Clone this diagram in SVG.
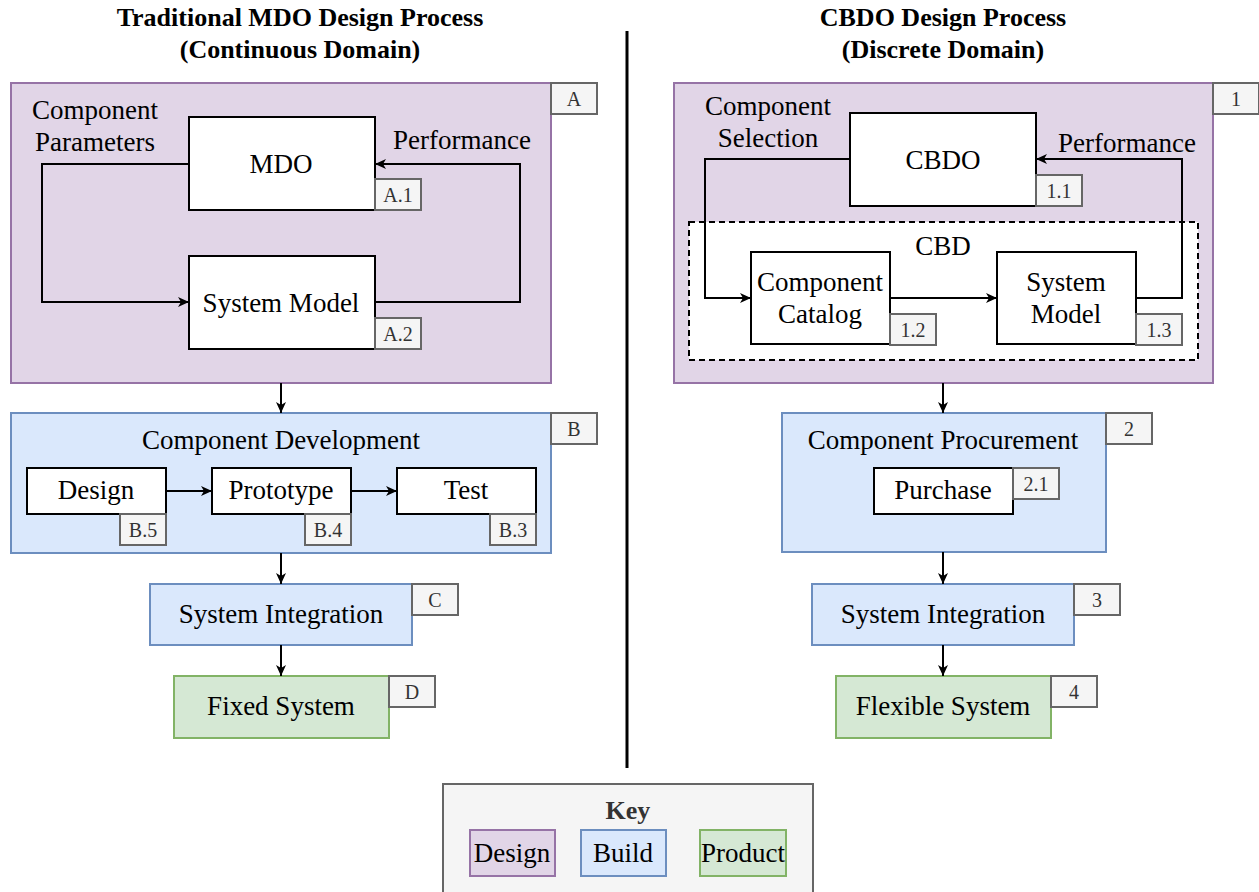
<svg xmlns="http://www.w3.org/2000/svg" width="1259" height="892" viewBox="0 0 1259 892">
  <style>
    text { font-family: "Liberation Serif", "Times New Roman", serif; fill: #000; }
    .t { font-size: 27px; text-anchor: middle; }
    .title { font-size: 26px; font-weight: bold; text-anchor: middle; }
    .lbl { font-size: 20px; text-anchor: middle; fill: #333; }
    .tag { fill: #f5f5f5; stroke: #666666; stroke-width: 2; }
    .design { fill: #e1d5e7; stroke: #9673a6; stroke-width: 2; }
    .build { fill: #dae8fc; stroke: #6c8ebf; stroke-width: 2; }
    .product { fill: #d5e8d4; stroke: #82b366; stroke-width: 2; }
    .plain { fill: #ffffff; stroke: #000; stroke-width: 2; }
    .edge { fill: none; stroke: #000; stroke-width: 2; marker-end: url(#arrow); }
  </style>
  <defs>
    <marker id="arrow" markerUnits="userSpaceOnUse" markerWidth="12" markerHeight="10" refX="11" refY="5" orient="auto">
      <path d="M0,0 L11,5 L0,10 L3,5 z" fill="#000"/>
    </marker>
  </defs>
  <rect width="1259" height="892" fill="#ffffff"/>

  <!-- headings and divider -->
  <g id="headings">
    <text class="title" x="300" y="26">Traditional MDO Design Process</text>
    <text class="title" x="300" y="58">(Continuous Domain)</text>
    <text class="title" x="943" y="26">CBDO Design Process</text>
    <text class="title" x="943" y="58">(Discrete Domain)</text>
    <line x1="627" y1="31" x2="627" y2="768" stroke="#000" stroke-width="3"/>
  </g>

  <!-- MDO process (left) -->
  <g id="A">
    <rect class="design" x="11" y="83" width="540" height="300"/>
    <rect class="tag" x="551" y="83" width="46" height="31"/>
    <text class="lbl" x="574" y="106">A</text>
    <text class="t" x="95" y="119">Component</text>
    <text class="t" x="95" y="151">Parameters</text>
    <text class="t" x="462" y="149">Performance</text>
  </g>
  <g id="A1">
    <rect class="plain" x="189" y="117" width="186" height="93"/>
    <text class="t" x="281" y="173">MDO</text>
    <rect class="tag" x="375" y="179" width="46" height="31"/>
    <text class="lbl" x="398" y="202">A.1</text>
  </g>
  <g id="A2">
    <rect class="plain" x="189" y="256" width="186" height="93"/>
    <text class="t" x="281" y="312">System Model</text>
    <rect class="tag" x="375" y="318" width="46" height="31"/>
    <text class="lbl" x="398" y="341">A.2</text>
  </g>

  <g id="B">
    <rect class="build" x="11" y="413" width="540" height="140"/>
    <rect class="tag" x="551" y="413" width="46" height="31"/>
    <text class="lbl" x="574" y="436">B</text>
    <text class="t" x="281" y="449">Component Development</text>
  </g>
  <g id="B5">
    <rect class="plain" x="27" y="468" width="139" height="46"/>
    <text class="t" x="96" y="499">Design</text>
    <rect class="tag" x="120" y="514" width="46" height="31"/>
    <text class="lbl" x="143" y="537">B.5</text>
  </g>
  <g id="B4">
    <rect class="plain" x="212" y="468" width="139" height="46"/>
    <text class="t" x="281" y="499">Prototype</text>
    <rect class="tag" x="305" y="514" width="46" height="31"/>
    <text class="lbl" x="328" y="537">B.4</text>
  </g>
  <g id="B3">
    <rect class="plain" x="397" y="468" width="139" height="46"/>
    <text class="t" x="466" y="499">Test</text>
    <rect class="tag" x="490" y="514" width="46" height="31"/>
    <text class="lbl" x="513" y="537">B.3</text>
  </g>

  <g id="C">
    <rect class="build" x="150" y="584" width="262" height="61"/>
    <text class="t" x="281" y="623">System Integration</text>
    <rect class="tag" x="412" y="584" width="46" height="31"/>
    <text class="lbl" x="435" y="607">C</text>
  </g>
  <g id="D">
    <rect class="product" x="174" y="676" width="215" height="62"/>
    <text class="t" x="281" y="715">Fixed System</text>
    <rect class="tag" x="389" y="676" width="46" height="31"/>
    <text class="lbl" x="412" y="699">D</text>
  </g>

  <!-- CBDO process (right) -->
  <g id="P1">
    <rect class="design" x="674" y="83" width="539" height="300"/>
    <rect class="tag" x="1213" y="83" width="46" height="31"/>
    <text class="lbl" x="1236" y="106">1</text>
    <text class="t" x="768" y="115">Component</text>
    <text class="t" x="768" y="147">Selection</text>
    <text class="t" x="1127" y="152">Performance</text>
  </g>
  <g id="CBD">
    <rect x="689" y="222" width="509" height="138" fill="#ffffff" stroke="#000" stroke-width="2" stroke-dasharray="6 4"/>
    <text class="t" x="943" y="255">CBD</text>
  </g>
  <g id="P1_1">
    <rect class="plain" x="850" y="113" width="186" height="93"/>
    <text class="t" x="943" y="169">CBDO</text>
    <rect class="tag" x="1036" y="175" width="46" height="31"/>
    <text class="lbl" x="1059" y="198">1.1</text>
  </g>
  <g id="P1_2">
    <rect class="plain" x="751" y="252" width="139" height="92"/>
    <text class="t" x="820" y="291">Component</text>
    <text class="t" x="820" y="323">Catalog</text>
    <rect class="tag" x="890" y="314" width="46" height="31"/>
    <text class="lbl" x="913" y="337">1.2</text>
  </g>
  <g id="P1_3">
    <rect class="plain" x="997" y="252" width="139" height="92"/>
    <text class="t" x="1066" y="291">System</text>
    <text class="t" x="1066" y="323">Model</text>
    <rect class="tag" x="1136" y="314" width="46" height="31"/>
    <text class="lbl" x="1159" y="337">1.3</text>
  </g>

  <g id="P2">
    <rect class="build" x="782" y="413" width="324" height="139"/>
    <rect class="tag" x="1106" y="413" width="46" height="31"/>
    <text class="lbl" x="1129" y="436">2</text>
    <text class="t" x="943" y="449">Component Procurement</text>
  </g>
  <g id="P2_1">
    <rect class="plain" x="874" y="468" width="139" height="46"/>
    <text class="t" x="943" y="499">Purchase</text>
    <rect class="tag" x="1013" y="468" width="46" height="31"/>
    <text class="lbl" x="1036" y="491">2.1</text>
  </g>
  <g id="P3">
    <rect class="build" x="812" y="584" width="262" height="61"/>
    <text class="t" x="943" y="623">System Integration</text>
    <rect class="tag" x="1074" y="584" width="46" height="31"/>
    <text class="lbl" x="1097" y="607">3</text>
  </g>
  <g id="P4">
    <rect class="product" x="836" y="676" width="215" height="62"/>
    <text class="t" x="943" y="715">Flexible System</text>
    <rect class="tag" x="1051" y="676" width="46" height="31"/>
    <text class="lbl" x="1074" y="699">4</text>
  </g>

  <!-- legend -->
  <g id="key">
    <rect x="443" y="784" width="370" height="112" fill="#f5f5f5" stroke="#666666" stroke-width="2"/>
    <text x="628" y="819" font-size="26" font-weight="bold" text-anchor="middle" style="fill:#333">Key</text>
    <rect class="design" x="470" y="830" width="85" height="46"/>
    <text class="t" x="512" y="862">Design</text>
    <rect class="build" x="581" y="830" width="85" height="46"/>
    <text class="t" x="623" y="862">Build</text>
    <rect class="product" x="700" y="830" width="86" height="46"/>
    <text class="t" x="743" y="862">Product</text>
  </g>

  <!-- connectors -->
  <g id="connectors">
    <polyline class="edge" points="189,164 42,164 42,302 189,302"/>
    <polyline class="edge" points="375,302 520,302 520,164 375,164"/>
    <line class="edge" x1="281" y1="383" x2="281" y2="413"/>
    <line class="edge" x1="166" y1="491" x2="212" y2="491"/>
    <line class="edge" x1="351" y1="491" x2="397" y2="491"/>
    <line class="edge" x1="281" y1="553" x2="281" y2="584"/>
    <line class="edge" x1="281" y1="645" x2="281" y2="676"/>

    <polyline class="edge" points="850,159 705,159 705,298 751,298"/>
    <line class="edge" x1="890" y1="298" x2="997" y2="298"/>
    <polyline class="edge" points="1136,298 1182,298 1182,159 1036,159"/>
    <line class="edge" x1="943" y1="383" x2="943" y2="413"/>
    <line class="edge" x1="943" y1="552" x2="943" y2="584"/>
    <line class="edge" x1="943" y1="645" x2="943" y2="676"/>
  </g>
</svg>
